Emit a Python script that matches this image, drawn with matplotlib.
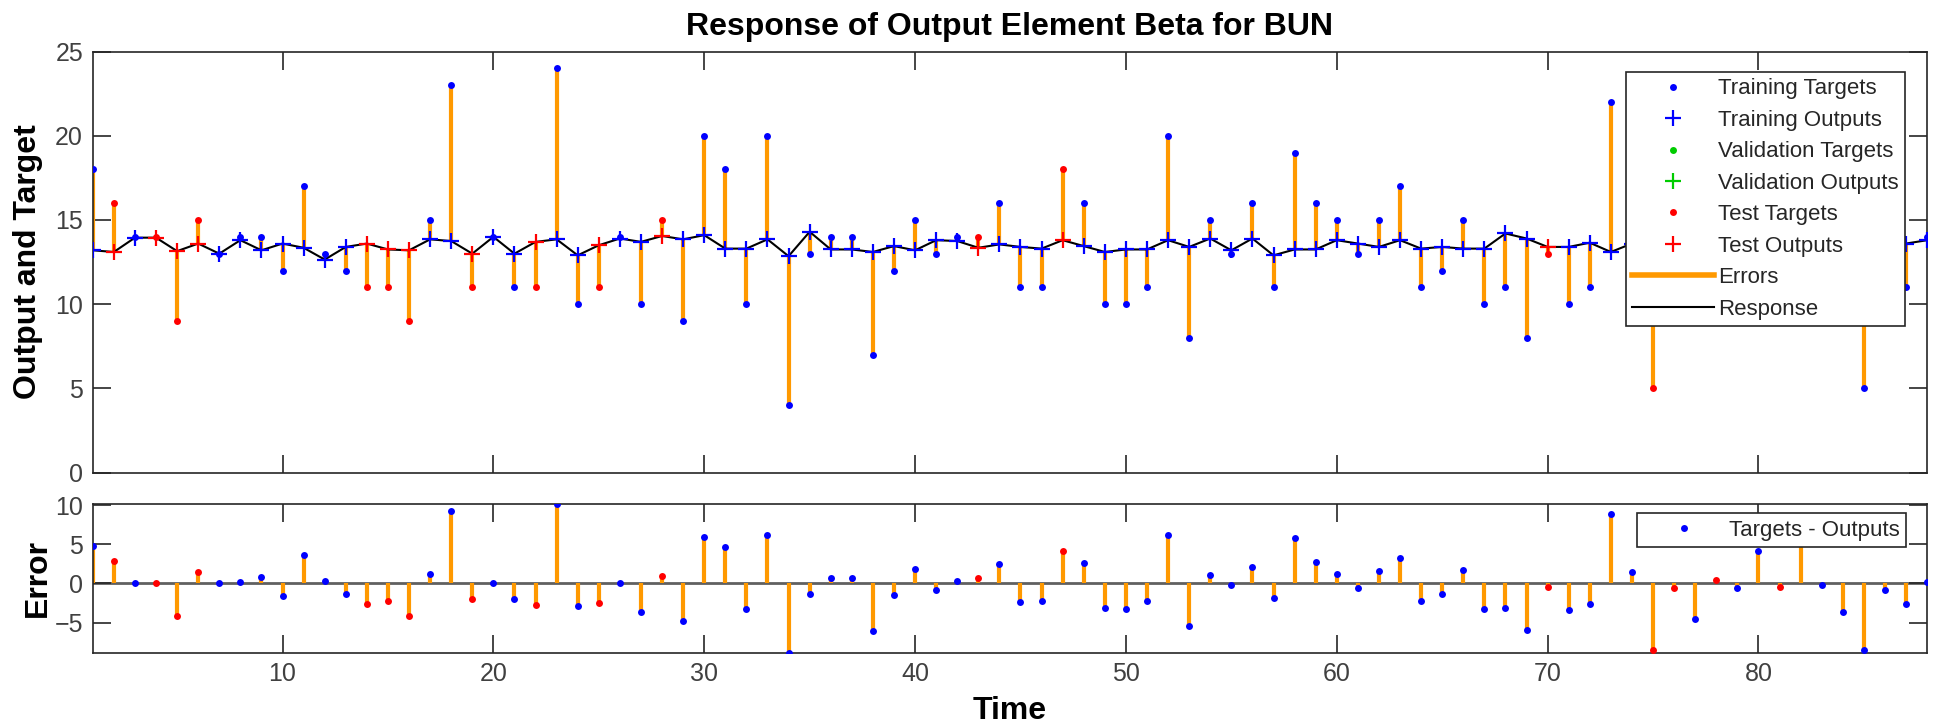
import matplotlib
matplotlib.use('Agg')
import matplotlib.pyplot as plt
from matplotlib.lines import Line2D


time = list(range(1, 89))

targets = [18, 16, 14, 14, 9, 15, 13, 14, 14, 12,
	17, 13, 12, 11, 11, 9, 15, 23, 11, 14,
	11, 11, 24, 10, 11, 14, 10, 15, 9, 20,
	18, 10, 20, 4, 13, 14, 14, 7, 12, 15,
	13, 14, 14, 16, 11, 11, 18, 16, 10, 10,
	11, 20, 8, 15, 13, 16, 11, 19, 16, 15,
	13, 15, 17, 11, 12, 15, 10, 11, 8, 13,
	10, 11, 22, 15, 5, 13, 9, 14, 13, 18,
	13, 19, 13, 10, 5, 13, 11, 14]

outputs = [13.2, 13.1, 13.95, 13.95, 13.15, 13.6, 13.0, 13.8, 13.2, 13.6,
	13.35, 12.65, 13.4, 13.6, 13.25, 13.2, 13.85, 13.75, 13.0, 14.0,
	13.0, 13.7, 13.85, 12.9, 13.5, 13.9, 13.7, 14.05, 13.85, 14.1,
	13.3, 13.3, 13.85, 12.85, 14.3, 13.25, 13.25, 13.1, 13.45, 13.2,
	13.8, 13.75, 13.35, 13.55, 13.4, 13.3, 13.8, 13.45, 13.1, 13.25,
	13.25, 13.8, 13.4, 13.9, 13.2, 13.9, 12.9, 13.25, 13.25, 13.8,
	13.6, 13.4, 13.8, 13.3, 13.4, 13.3, 13.3, 14.2, 13.9, 13.4,
	13.4, 13.65, 13.1, 13.6, 13.5, 13.6, 13.5, 13.6, 13.6, 13.8,
	13.5, 13.6, 13.2, 13.7, 13.5, 13.8, 13.6, 13.8]

# time steps that belong to the test set, everything else is training
test_steps = [2, 4, 5, 6, 14, 15, 16, 19, 22, 25, 28, 43, 47, 70, 75, 76, 78, 81]

ORANGE = '#ff9900'
DARK = '#262626'


def main():
	plt.rcParams['font.family'] = ['Liberation Sans', 'DejaVu Sans']

	errors = [t - o for t, o in zip(targets, outputs)]
	train_idx = [i for i in range(len(time)) if time[i] not in test_steps]
	test_idx = [i for i in range(len(time)) if time[i] in test_steps]

	fig = plt.figure(figsize=(19.37, 7.26), dpi=100)
	ax_top = fig.add_axes([0.0479, 0.349, 0.947, 0.580])
	ax_err = fig.add_axes([0.0479, 0.101, 0.947, 0.2048])

	draw_response(ax_top, train_idx, test_idx)
	draw_errors(ax_err, errors, train_idx, test_idx)

	fig.savefig('out.png', dpi=100)


def style_axes(ax):
	for side in ax.spines.values():
		side.set_color(DARK)
		side.set_linewidth(1.2)
	ax.tick_params(direction='in', length=13, width=1.2, color=DARK,
		labelcolor='#404040', labelsize=18, top=True, right=True, pad=7)
	ax.set_xlim(time[0], time[-1])
	ax.set_xticks(range(10, 81, 10))


def pick(values, idx):
	return [values[i] for i in idx]


def draw_response(ax, train_idx, test_idx):
	style_axes(ax)
	ax.vlines(time, outputs, targets, color=ORANGE, linewidth=3, zorder=2)
	ax.plot(time, outputs, color='black', linewidth=1.5, zorder=3)

	ax.plot(pick(time, train_idx), pick(targets, train_idx), 'o', color='blue',
		markersize=5, markeredgewidth=0, zorder=4)
	ax.plot(pick(time, train_idx), pick(outputs, train_idx), '+', color='blue',
		markersize=11, markeredgewidth=1.6, zorder=4)
	ax.plot(pick(time, test_idx), pick(targets, test_idx), 'o', color='red',
		markersize=5, markeredgewidth=0, zorder=4)
	ax.plot(pick(time, test_idx), pick(outputs, test_idx), '+', color='red',
		markersize=11, markeredgewidth=1.6, zorder=4)

	ax.set_ylim(0, 25)
	ax.set_yticks([0, 5, 10, 15, 20, 25])
	ax.set_xticklabels([])
	ax.set_title('Response of Output Element Beta for BUN', fontsize=23,
		fontweight='bold', pad=12)
	ax.set_ylabel('Output and Target', fontsize=23, fontweight='bold')
	ax.yaxis.set_label_coords(-0.0271, 0.5)

	handles = [
		Line2D([], [], linestyle='none', marker='o', color='blue', markersize=5, markeredgewidth=0),
		Line2D([], [], linestyle='none', marker='+', color='blue', markersize=11, markeredgewidth=1.6),
		Line2D([], [], linestyle='none', marker='o', color='#00cc00', markersize=5, markeredgewidth=0),
		Line2D([], [], linestyle='none', marker='+', color='#00cc00', markersize=11, markeredgewidth=1.6),
		Line2D([], [], linestyle='none', marker='o', color='red', markersize=5, markeredgewidth=0),
		Line2D([], [], linestyle='none', marker='+', color='red', markersize=11, markeredgewidth=1.6),
		Line2D([], [], color=ORANGE, linewidth=4),
		Line2D([], [], color='black', linewidth=1.5),
	]
	labels = ['Training Targets', 'Training Outputs', 'Validation Targets',
		'Validation Outputs', 'Test Targets', 'Test Outputs', 'Errors', 'Response']
	leg = ax.legend(handles, labels, loc='upper right', bbox_to_anchor=(0.988, 0.952),
		fontsize=16, handlelength=3.7, handletextpad=0.15, labelspacing=0.47,
		borderpad=0.3, borderaxespad=0, fancybox=False, framealpha=1)
	frame_style(leg)


def draw_errors(ax, errors, train_idx, test_idx):
	style_axes(ax)
	ax.axhline(0, color='#606060', linewidth=2, zorder=1)
	ax.vlines(time, 0, errors, color=ORANGE, linewidth=3, zorder=2)
	ax.plot(pick(time, train_idx), pick(errors, train_idx), 'o', color='blue',
		markersize=5, markeredgewidth=0, zorder=4, label='Targets - Outputs')
	ax.plot(pick(time, test_idx), pick(errors, test_idx), 'o', color='red',
		markersize=5, markeredgewidth=0, zorder=4)

	ax.set_ylim(min(errors), max(errors))
	ax.set_yticks([-5, 0, 5, 10])
	ax.set_xlabel('Time', fontsize=23, fontweight='bold', labelpad=7)
	ax.set_ylabel('Error', fontsize=23, fontweight='bold')
	ax.yaxis.set_label_coords(-0.0216, 0.5)

	leg = ax.legend(loc='upper right', bbox_to_anchor=(0.9886, 0.9395),
		fontsize=16, handlelength=3.7, handletextpad=0.15, borderpad=0.3,
		borderaxespad=0, fancybox=False, framealpha=1)
	frame_style(leg)


def frame_style(leg):
	leg.get_frame().set_edgecolor(DARK)
	leg.get_frame().set_linewidth(1.2)
	leg.set_zorder(10)
	for text in leg.get_texts():
		text.set_color(DARK)


if __name__ == '__main__':
	main()
